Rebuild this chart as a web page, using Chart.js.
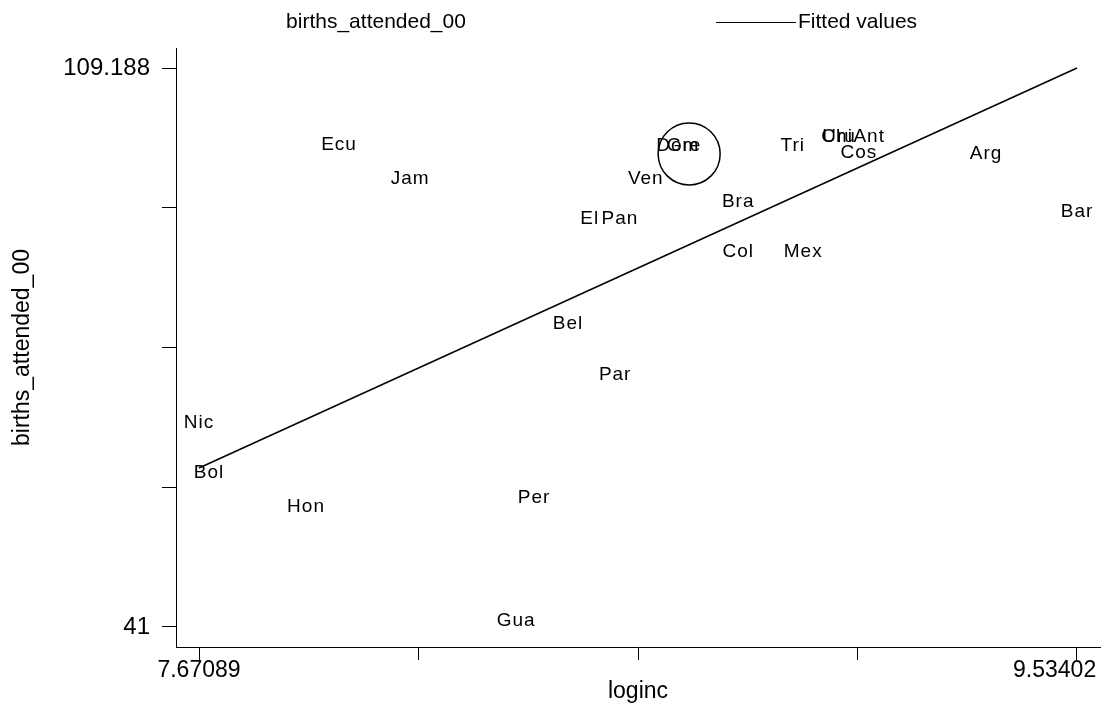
<!DOCTYPE html>
<html>
<head>
<meta charset="utf-8">
<script src="https://cdn.jsdelivr.net/npm/chart.js@4/dist/chart.umd.min.js"></script>
<style>
  html, body { margin: 0; padding: 0; background: #fff; }
  #wrap { width: 1102px; height: 711px; }
</style>
</head>
<body>
<div id="wrap"><canvas id="grafico"></canvas></div>
<script>
// country labels and values
const countries = ['Ecu','Jam','Ven','El','Pan','Dom','Gre','Tri','Chi','Uru','Ant','Cos','Arg','Bar','Bra','Col','Mex','Bel','Par','Nic','Bol','Hon','Per','Gua'];
const loginc = [7.968, 8.119, 8.619, 8.500, 8.564, 8.687, 8.700, 8.931, 9.025, 9.029, 9.093, 9.071, 9.341, 9.534, 8.815, 8.815, 8.953, 8.454, 8.554, 7.671, 7.692, 7.898, 8.382, 8.344];
const births = [99.07, 94.92, 94.92, 90.04, 90.04, 98.94, 98.94, 98.94, 100.04, 100.04, 100.04, 98.09, 97.97, 90.89, 92.11, 86.01, 86.01, 77.23, 71.01, 65.16, 59.06, 54.90, 56.00, 41.0];

// fitted values (linear fit endpoints)
const fitX = [7.67089, 9.53402];
const fitY = [60.40, 109.188];

// highlighted observation (big hollow circle)
const circleX = [8.711];
const circleY = [98.70];

const xTicks = [7.67089, 8.13667, 8.60246, 9.06824, 9.53402];
const xTickLabels = ['7.67089', '', '', '', '9.53402'];
const yTicks = [41, 58.047, 75.094, 92.141, 109.188];
const yTickLabels = ['41', '', '', '', '109.188'];

const FONT = '"Liberation Sans", Arial, sans-serif';

const pontos = countries.map((c, i) => ({ x: loginc[i], y: births[i] }));
const linha = fitX.map((x, i) => ({ x: x, y: fitY[i] }));
const circulo = circleX.map((x, i) => ({ x: x, y: circleY[i] }));

// marker labels centred on each (invisible) marker
const rotulos = {
  id: 'rotulos',
  afterDatasetsDraw(chart) {
    const ctx = chart.ctx;
    const meta = chart.getDatasetMeta(0);
    ctx.save();
    ctx.font = '19px ' + FONT;
    if ('letterSpacing' in ctx) ctx.letterSpacing = '1px';
    ctx.fillStyle = '#000';
    ctx.textAlign = 'center';
    ctx.textBaseline = 'middle';
    meta.data.forEach((p, i) => {
      ctx.fillText(countries[i], p.x, p.y - 6);
    });
    ctx.restore();
  }
};

// Stata-like legend on top
const legenda = {
  id: 'legenda',
  afterDraw(chart) {
    const ctx = chart.ctx;
    ctx.save();
    ctx.font = '21px ' + FONT;
    ctx.fillStyle = '#000';
    ctx.textBaseline = 'middle';
    ctx.textAlign = 'center';
    ctx.fillText('births_attended_00', 376, 22);
    ctx.strokeStyle = '#000';
    ctx.lineWidth = 1;
    ctx.beginPath();
    ctx.moveTo(716, 22.5);
    ctx.lineTo(796, 22.5);
    ctx.stroke();
    ctx.textAlign = 'left';
    ctx.fillText('Fitted values', 798, 22);
    ctx.restore();
  }
};

new Chart(document.getElementById('grafico'), {
  type: 'scatter',
  data: {
    datasets: [
      {
        label: 'births_attended_00',
        data: pontos,
        pointRadius: 0,
        pointHoverRadius: 0
      },
      {
        label: 'Fitted values',
        type: 'line',
        data: linha,
        borderColor: '#000',
        borderWidth: 1.5,
        pointRadius: 0,
        fill: false
      },
      {
        label: 'destaque',
        data: circulo,
        pointRadius: 31,
        pointBorderWidth: 1.5,
        pointBorderColor: '#000',
        pointBackgroundColor: 'rgba(0,0,0,0)'
      }
    ]
  },
  options: {
    responsive: true,
    maintainAspectRatio: false,
    animation: false,
    events: [],
    layout: { autoPadding: false, padding: { top: 48, right: 2, left: 0, bottom: 0 } },
    plugins: {
      legend: { display: false },
      tooltip: { enabled: false }
    },
    scales: {
      x: {
        type: 'linear',
        min: 7.62208,
        max: 9.58283,
        afterBuildTicks(scale) { scale.ticks = xTicks.map(v => ({ value: v })); },
        afterFit(scale) { scale.height = 64; scale.paddingLeft = 0; scale.paddingRight = 0; },
        border: { display: true, color: '#000', width: 1 },
        grid: { display: true, drawOnChartArea: false, drawTicks: true, tickLength: 13, color: '#000', lineWidth: 1 },
        ticks: {
          autoSkip: false,
          maxRotation: 0,
          padding: -3,
          color: '#000',
          font: { family: FONT, size: 23 },
          // last label pulled left so it stays inside the canvas, like Stata does
          callback: (v, i) => i === xTickLabels.length - 1 ? xTickLabels[i] + '       ' : xTickLabels[i]
        },
        title: { display: true, text: 'loginc', color: '#000', font: { family: FONT, size: 23 }, padding: { top: 0, bottom: 6 } }
      },
      y: {
        type: 'linear',
        min: 38.560,
        max: 111.628,
        afterBuildTicks(scale) { scale.ticks = yTicks.map(v => ({ value: v })); },
        afterFit(scale) { scale.width = 176; scale.paddingTop = 0; scale.paddingBottom = 0; },
        border: { display: true, color: '#000', width: 1 },
        grid: { display: true, drawOnChartArea: false, drawTicks: true, tickLength: 14, color: '#000', lineWidth: 1 },
        ticks: {
          autoSkip: false,
          padding: 12,
          color: '#000',
          font: { family: FONT, size: 24 },
          callback: (v, i) => yTickLabels[i]
        },
        title: { display: true, text: 'births_attended_00', color: '#000', font: { family: FONT, size: 23 }, padding: { top: 9, bottom: 0 } }
      }
    }
  },
  plugins: [rotulos, legenda]
});
</script>
</body>
</html>
